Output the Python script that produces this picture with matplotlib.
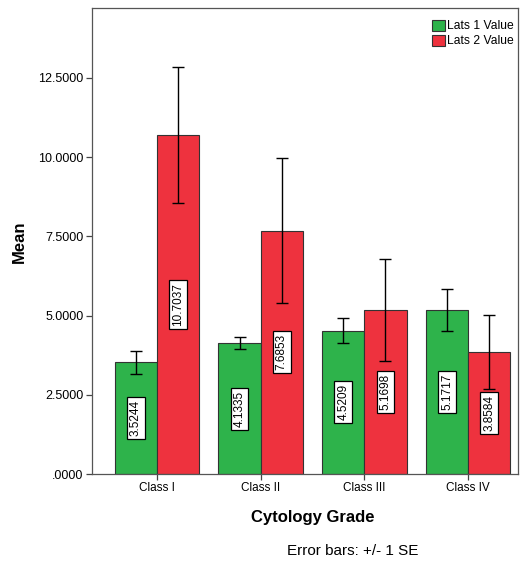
import numpy as np
import matplotlib
matplotlib.use("Agg")
import matplotlib.pyplot as plt

plt.rcParams["font.family"] = ["Liberation Sans", "DejaVu Sans"]

# data
grades = ["Class I", "Class II", "Class III", "Class IV"]
lats1_mean = [3.5244, 4.1335, 4.5209, 5.1717]
lats1_se = [0.37, 0.20, 0.40, 0.67]
lats2_mean = [10.7037, 7.6853, 5.1698, 3.8584]
lats2_se = [2.14, 2.28, 1.61, 1.16]
yticks = [0, 2.5, 5.0, 7.5, 10.0, 12.5]
yticklabels = [".0000", "2.5000", "5.0000", "7.5000", "10.0000", "12.5000"]

GREEN = "#2eb34b"
RED = "#ee323e"

fig = plt.figure(figsize=(5.25, 5.65), dpi=100)
ax = fig.add_axes([0.175, 0.161, 0.812, 0.825])

x = np.arange(len(grades))
w = 0.405
err_kw = dict(ecolor="black", capsize=4, elinewidth=1.0, capthick=1.0)
ax.bar(x - w / 2, lats1_mean, w, yerr=lats1_se, color=GREEN,
       edgecolor="#333333", linewidth=0.8, error_kw=err_kw,
       label="Lats 1 Value")
ax.bar(x + w / 2, lats2_mean, w, yerr=lats2_se, color=RED,
       edgecolor="#333333", linewidth=0.8, error_kw=err_kw,
       label="Lats 2 Value")

# value labels, rotated, in white boxes at half bar height
for xs, vals in ((x - w / 2, lats1_mean), (x + w / 2, lats2_mean)):
    for xi, v in zip(xs, vals):
        ax.text(xi, v / 2, f"{v:.4f}", rotation=90, ha="center", va="center",
                fontsize=8.5,
                bbox=dict(boxstyle="square,pad=0.25", facecolor="white",
                          edgecolor="black", linewidth=0.9))

ax.set_xlim(-0.624, 3.48)
ax.set_ylim(0, 14.71)
ax.set_xticks(x)
ax.set_xticklabels(grades, fontsize=8.5)
ax.set_yticks(yticks)
ax.set_yticklabels(yticklabels, fontsize=9)
ax.tick_params(axis="both", direction="out", length=4, width=0.9,
               color="#444444", pad=2)
for sp in ax.spines.values():
    sp.set_color("#555555")
    sp.set_linewidth(0.9)

ax.set_ylabel("Mean", fontsize=12, fontweight="bold", va="center")
ax.yaxis.set_label_coords(-0.169, 0.498)
ax.set_xlabel("Cytology Grade", fontsize=12, fontweight="bold", va="center")
ax.xaxis.set_label_coords(0.519, -0.094)

ax.legend(loc="upper right", bbox_to_anchor=(0.99, 0.975), fontsize=8.7,
          frameon=False, handlelength=1.05, handleheight=1.05,
          handletextpad=0.2, labelspacing=0.2, borderaxespad=0,
          borderpad=0)

fig.text(353 / 525, 1 - 551 / 565, "Error bars: +/- 1 SE", ha="center",
         va="center", fontsize=11)

fig.savefig("out.png", dpi=100)
